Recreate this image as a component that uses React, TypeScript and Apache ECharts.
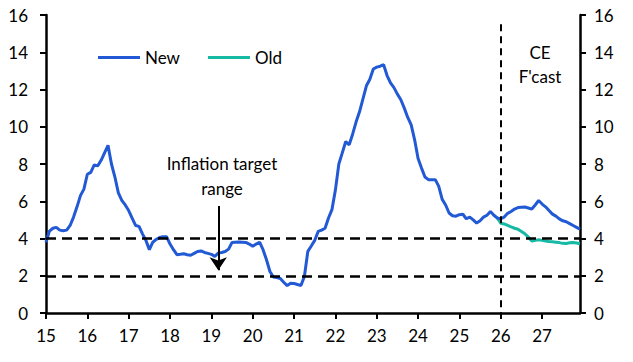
import React, { useEffect, useRef } from "react";
import * as echarts from "echarts";

const startYear = 2015;
const endYear = 2027;
const categories: string[] = [];
for (let y = startYear; y <= endYear; y++) {
  for (let m = 1; m <= 12; m++) categories.push(`${y}-${m < 10 ? "0" + m : m}`);
}

const newValues = [
  3.8, 4.4, 4.55, 4.6, 4.45, 4.42, 4.45, 4.7, 5.15, 5.7,
  6.3, 6.65, 7.45, 7.55, 7.95, 7.9, 8.2, 8.6, 9.0, 8.0,
  7.3, 6.45, 6.05, 5.8, 5.5, 5.1, 4.7, 4.65, 4.25, 3.9,
  3.4, 3.8, 3.95, 4.05, 4.1, 4.1, 3.7, 3.4, 3.13, 3.15,
  3.18, 3.13, 3.1, 3.2, 3.3, 3.33, 3.25, 3.2, 3.15, 3.04,
  3.22, 3.25, 3.3, 3.43, 3.79, 3.8, 3.81, 3.8, 3.79, 3.7,
  3.58, 3.7, 3.8, 3.4, 2.86, 2.23, 1.93, 1.9, 1.85, 1.65,
  1.47, 1.6, 1.58, 1.53, 1.48, 1.96, 3.31, 3.6, 3.9, 4.38,
  4.45, 4.55, 5.1, 5.55, 6.6, 8.0, 8.6, 9.21, 9.03, 9.6,
  10.25, 10.8, 11.5, 12.2, 12.55, 13.1, 13.2, 13.25, 13.33, 12.75,
  12.35, 12.1, 11.75, 11.45, 11.0, 10.5, 10.1, 9.3, 8.3, 7.78,
  7.3, 7.16, 7.16, 7.16, 6.8, 6.1, 5.8, 5.37, 5.22, 5.2,
  5.28, 5.3, 5.06, 5.15, 5.0, 4.83, 4.95, 5.15, 5.25, 5.45,
  5.25, 5.1, 5.06, 5.15, 5.35, 5.45, 5.58, 5.66, 5.68, 5.69,
  5.64, 5.58, 5.8, 6.04, 5.85, 5.7, 5.5, 5.31, 5.2, 5.05,
  4.95, 4.9, 4.8, 4.7, 4.6, 4.5,
];

const oldStartIndex = 131;
const oldForecast = [
  5.1, 4.82, 4.78, 4.7, 4.62, 4.55, 4.5, 4.38, 4.25, 4.08,
  3.86, 3.9, 3.93, 3.9, 3.87, 3.84, 3.82, 3.8, 3.78, 3.74,
  3.73, 3.77, 3.79, 3.76, 3.72,
];
const oldValues: (number | null)[] = categories.map((_, i) =>
  i < oldStartIndex ? null : oldForecast[i - oldStartIndex] ?? null
);

const targetLow = 2;
const targetHigh = 4;
const forecastStart = "2026-01";
const arrowAt = "2019-03";
const arrowFrom = 5.75;
const arrowTo = 2.3;

const FONT = "Lato";
const FS = 17;
const BLUE = "#2259d4";
const TEAL = "#16b9a4";

export default function App() {
  const ref = useRef<HTMLDivElement>(null);
  useEffect(() => {
    if (!ref.current) return;
    const chart = echarts.init(ref.current, null, { renderer: "svg" });
    const yAxisCommon = {
      type: "value",
      min: 0,
      max: 16,
      interval: 2,
      splitLine: { show: false },
      axisLine: { show: true, lineStyle: { color: "#000", width: 2.5 } },
      axisTick: { show: true, length: 6, lineStyle: { color: "#000", width: 2 } },
    };
    chart.setOption({
      animation: false,
      textStyle: { fontFamily: FONT },
      grid: { left: 46, right: 53, top: 15, bottom: 49, containLabel: false },
      legend: {
        left: 98,
        top: 49,
        padding: 0,
        icon: "rect",
        itemWidth: 42,
        itemHeight: 3,
        itemGap: 28,
        textStyle: { fontFamily: FONT, fontSize: FS, color: "#000" },
        data: ["New", "Old"],
      },
      xAxis: {
        type: "category",
        data: categories,
        boundaryGap: false,
        axisLine: { show: true, lineStyle: { color: "#000", width: 2.5 } },
        axisTick: {
          show: true,
          length: 6,
          interval: (i: number) => i % 12 === 0,
          lineStyle: { color: "#000", width: 2 },
        },
        axisLabel: {
          interval: (i: number) => i % 12 === 0,
          formatter: (v: string) => v.substring(2, 4),
          fontFamily: FONT,
          fontSize: FS,
          color: "#000",
          margin: 14,
        },
        splitLine: { show: false },
      },
      yAxis: [
        {
          ...yAxisCommon,
          position: "left",
          axisLabel: { fontFamily: FONT, fontSize: FS, color: "#000", margin: 18 },
        },
        {
          ...yAxisCommon,
          position: "right",
          axisLabel: { fontFamily: FONT, fontSize: FS, color: "#000", margin: 14 },
        },
      ],
      series: [
        {
          name: "New",
          type: "line",
          data: newValues,
          symbol: "none",
          lineStyle: { color: BLUE, width: 3 },
          itemStyle: { color: BLUE },
          z: 3,
          markLine: {
            silent: true,
            symbol: ["none", "none"],
            label: { show: false },
            lineStyle: { color: "#000", width: 2.5, type: [10, 6] },
            data: [{ yAxis: targetLow }, { yAxis: targetHigh }],
          },
        },
        {
          name: "Old",
          type: "line",
          data: oldValues,
          symbol: "none",
          lineStyle: { color: TEAL, width: 3 },
          itemStyle: { color: TEAL },
          z: 2,
          markLine: {
            silent: true,
            symbol: ["none", "none"],
            label: { show: false },
            data: [
              [
                { coord: [forecastStart, 15.5], lineStyle: { color: "#000", width: 2, type: [7, 5] } },
                { coord: [forecastStart, 0] },
              ],
              [
                {
                  coord: [arrowAt, arrowFrom],
                  symbol: "none",
                  lineStyle: { color: "#000", width: 2, type: "solid" },
                },
                { coord: [arrowAt, arrowTo], symbol: "arrow", symbolSize: [13, 13] },
              ],
            ],
          },
        },
      ],
      graphic: [
        {
          type: "text",
          x: 222,
          y: 151,
          style: {
            text: "Inflation target\nrange",
            fontFamily: FONT,
            fontSize: FS,
            lineHeight: 25,
            fill: "#000",
            textAlign: "center",
            align: "center",
            verticalAlign: "top",
            textVerticalAlign: "top",
          },
        },
        {
          type: "text",
          x: 540,
          y: 40,
          style: {
            text: "CE\nF'cast",
            fontFamily: FONT,
            fontSize: FS,
            lineHeight: 24,
            fill: "#000",
            textAlign: "center",
            align: "center",
            verticalAlign: "top",
            textVerticalAlign: "top",
          },
        },
      ],
    });
    return () => chart.dispose();
  }, []);
  return (
    <div
      ref={ref}
      style={{ position: "fixed", left: 0, top: 0, width: 633, height: 362, background: "#fff" }}
    />
  );
}
